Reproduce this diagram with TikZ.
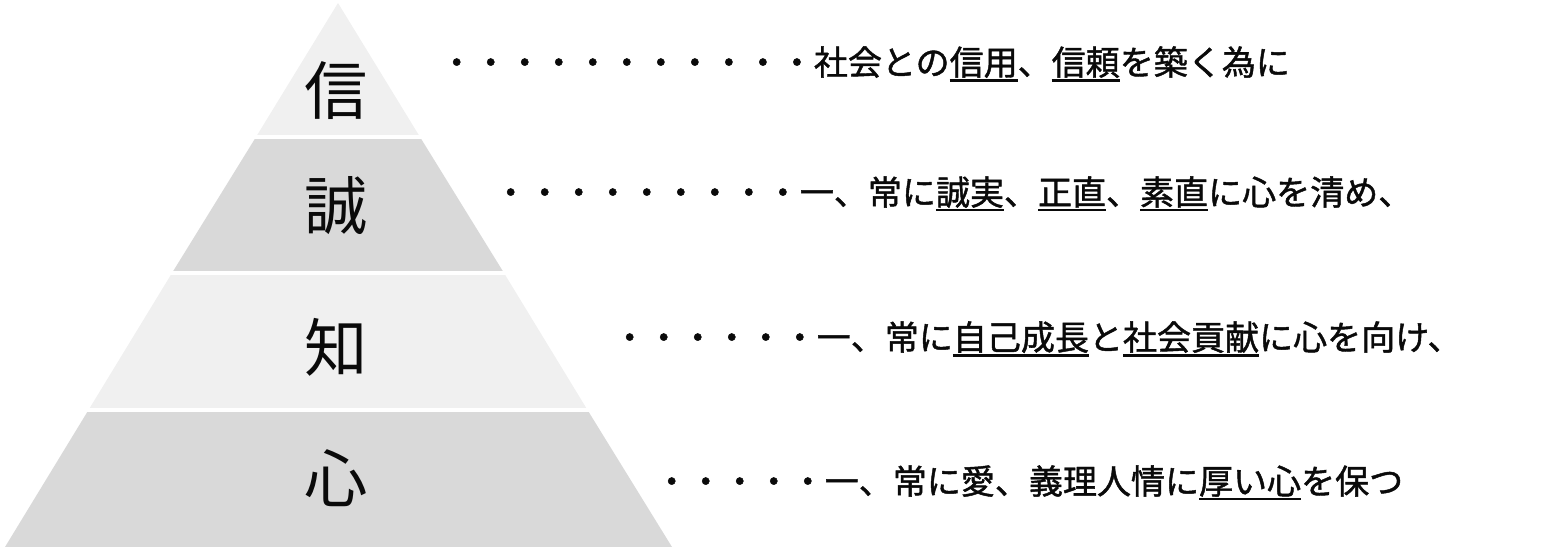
\documentclass[tikz,border=0pt]{standalone}
\usepackage{fontspec}
\setmainfont{Noto Sans CJK JP}
\newfontfamily\mottofont[FakeBold=1.3]{Noto Sans CJK JP}
\usepackage{xcolor}
\definecolor{bandlight}{RGB}{240,240,240}
\definecolor{banddark}{RGB}{217,217,217}
\definecolor{inkgray}{RGB}{10,10,10}
\usepackage{tikz}
\usetikzlibrary{positioning}
% subrayado algo mas grueso
\newcommand\kline[1]{\leavevmode\vtop{\hbox{#1}\kern0.3pt\hrule height 0.75pt}}

\begin{document}
\begin{tikzpicture}[every node/.style={inner sep=0pt,text=inkgray},
  kanji/.style={font=\fontsize{18pt}{18pt}\selectfont},
  motto/.style={anchor=base west,font=\mottofont\fontsize{9.68pt}{10pt}\selectfont}]
  % Lienzo 15.52 x 5.54 ; bandas alternas claro / oscuro
  \useasboundingbox (0,0) rectangle (15.52,5.54);
  % --- Piramide ---
  \fill[bandlight] (3.38,5.51) -- (4.20,4.17) -- (2.56,4.17) -- cycle;
  \fill[banddark] (2.56,4.17) -- (4.20,4.17) -- (5.04,2.81) -- (1.72,2.81) -- cycle;
  \fill[bandlight] (1.72,2.81) -- (5.04,2.81) -- (5.875,1.44) -- (0.885,1.44) -- cycle;
  \fill[banddark] (0.885,1.44) -- (5.875,1.44) -- (6.72,0.07) -- (0.05,0.07) -- cycle;
  % separadores
  \draw[white,line width=0.9pt] (2.4,4.17) -- (4.4,4.17);
  \draw[white,line width=0.9pt] (1.5,2.81) -- (5.2,2.81);
  \draw[white,line width=0.9pt] (0.7,1.44) -- (6.1,1.44);
  % --- Caracteres de cada nivel ---
  \node[kanji] (shin) at (3.36,4.63) {信};
  \node[kanji] (sei)  at (3.36,3.48) {誠};
  \node[kanji] (chi)  at (3.36,2.07) {知};
  \node[kanji] (kokoro) at (3.36,0.76) {心};
  % --- Lemas ---
  \node[motto] (mshin) at (4.39,4.79) {・・・・・・・・・・・社会との\kline{信用}、\kline{信頼}を築く為に};
  \node[motto] (msei)  at (4.93,3.49) {・・・・・・・・・一、常に\kline{誠実}、\kline{正直}、\kline{素直}に心を清め、};
  \node[motto] (mchi)  at (6.12,2.04) {・・・・・・一、常に\kline{自己成長}と\kline{社会貢献}に心を向け、};
  \node[motto] (mkokoro) at (6.54,0.60) {・・・・・一、常に愛、義理人情に\kline{厚い心}を保つ};
\end{tikzpicture}
\end{document}
